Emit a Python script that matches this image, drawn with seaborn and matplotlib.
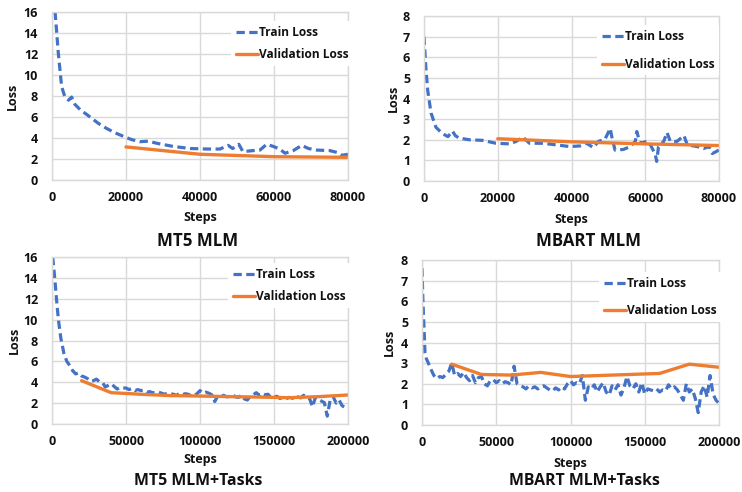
import matplotlib
matplotlib.use("Agg")
import matplotlib.pyplot as plt
import seaborn as sns
from matplotlib.lines import Line2D

# ---------------- data ----------------
# MT5 MLM
mt5_mlm_train_steps = [500, 1700, 2600, 3500, 4500, 5300, 6200, 7600, 10300, 12500,
                       14800, 17000, 19700, 21500, 23800, 26000, 28300, 32700, 37300, 41800,
                       45400, 47600, 48800, 50500, 51600, 54300, 56200, 58000, 59800, 61500,
                       63000, 65200, 67500, 69300, 71600, 75100, 77300, 78300, 80000]
mt5_mlm_train_loss = [17.5, 12.1, 8.9, 7.9, 7.6, 7.9, 7.2, 6.7, 6.0, 5.4,
                      4.9, 4.5, 4.1, 3.85, 3.65, 3.7, 3.5, 3.2, 3.0, 2.95,
                      2.95, 3.3, 3.0, 3.4, 2.7, 2.8, 2.85, 3.4, 3.2, 2.95,
                      2.55, 2.8, 3.3, 3.0, 2.85, 2.8, 2.6, 2.35, 2.45]
mt5_mlm_val_steps = [20000, 40000, 60000, 80000]
mt5_mlm_val_loss = [3.15, 2.45, 2.22, 2.16]

# MBART MLM
mbart_mlm_train_steps = [0, 500, 1000, 1900, 3250, 5000, 6500, 7700, 8500, 9500,
                         12300, 15900, 19500, 23200, 25000, 26800, 28600, 32300, 35900, 39500,
                         42300, 44100, 45900, 47300, 49100, 50500, 50900, 51800, 54100, 55900,
                         57300, 57700, 58600, 60500, 61400, 62700, 63100, 63600, 65000, 65900,
                         66800, 68600, 70500, 71400, 74100, 75900, 77300, 78200, 80000]
mbart_mlm_train_loss = [7.0, 5.5, 4.4, 3.3, 2.6, 2.3, 2.15, 2.42, 2.2, 2.08,
                        2.0, 1.97, 1.83, 1.8, 1.92, 2.13, 1.83, 1.83, 1.75, 1.67,
                        1.7, 1.83, 1.62, 1.92, 2.03, 2.55, 2.17, 1.5, 1.53, 1.67,
                        1.92, 2.4, 1.83, 1.92, 1.75, 1.3, 0.95, 1.67, 1.92, 2.35,
                        1.92, 1.92, 2.2, 1.75, 1.67, 1.58, 1.67, 1.33, 1.5]
mbart_mlm_val_steps = [20000, 40000, 60000, 80000]
mbart_mlm_val_loss = [2.05, 1.9, 1.8, 1.72]

# MT5 MLM+Tasks (logged every 2000 steps after warm-up)
mt5_tasks_head_steps = [500, 1500, 2500, 3500, 4500, 6000]
mt5_tasks_head_loss = [16.0, 14.5, 12.9, 11.2, 9.8, 8.2]
mt5_tasks_log_steps = list(range(8000, 200001, 2000))
mt5_tasks_log_loss = [
    6.8, 6.0, 5.6, 5.1, 4.8, 4.9, 4.6, 4.5, 4.35, 4.1,        # 8000 - 26000
    4.15, 4.3, 4.05, 4.0, 3.55, 3.7, 3.85, 3.6, 3.35, 3.5,    # 28000 - 46000
    3.45, 3.45, 3.3, 3.4, 3.2, 3.3, 3.2, 3.25, 3.05, 3.1,     # 48000 - 66000
    3.0, 3.0, 3.05, 2.95, 2.85, 2.95, 2.9, 2.85, 2.75, 2.9,   # 68000 - 86000
    2.8, 2.9, 2.85, 2.7, 2.75, 2.9, 3.2, 2.95, 3.05, 2.95,    # 88000 - 106000
    2.8, 2.15, 2.7, 2.6, 2.75, 2.6, 2.65, 2.8, 2.6, 2.55,     # 108000 - 126000
    2.75, 2.4, 2.3, 2.65, 2.8, 3.0, 2.75, 2.95, 2.8, 2.85,    # 128000 - 146000
    2.5, 2.6, 2.65, 2.45, 2.55, 2.4, 2.55, 2.5, 2.4, 2.6,     # 148000 - 166000
    2.5, 2.75, 2.6, 2.45, 1.65, 2.55, 2.35, 2.2, 2.05, 0.75,  # 168000 - 186000
    2.35, 2.6, 2.0, 2.3, 1.75, 1.6, 1.6,                      # 188000 - 200000
]
mt5_tasks_val_steps = [20000, 40000, 60000, 80000, 100000, 120000, 140000, 160000, 180000, 200000]
mt5_tasks_val_loss = [4.15, 3.0, 2.85, 2.72, 2.68, 2.62, 2.58, 2.52, 2.62, 2.78]

# MBART MLM+Tasks (logged every 2000 steps after warm-up)
mbart_tasks_head_steps = [0, 500, 1000, 1500, 2000, 3000]
mbart_tasks_head_loss = [7.6, 6.3, 5.3, 4.5, 3.5, 3.2]
mbart_tasks_log_steps = list(range(4000, 200001, 2000))
mbart_tasks_log_loss = [
    3.05, 2.7, 2.4, 2.25, 2.35, 2.3, 2.45, 2.6, 3.0, 2.4,     # 4000 - 22000
    2.5, 2.35, 2.55, 2.3, 2.15, 2.4, 2.05, 2.3, 2.35, 2.0,    # 24000 - 42000
    1.9, 2.15, 2.2, 2.05, 2.15, 2.0, 2.1, 2.05, 1.95, 2.85,   # 44000 - 62000
    2.0, 1.9, 1.85, 1.75, 1.9, 1.8, 1.85, 1.75, 1.85, 1.9,    # 64000 - 82000
    1.8, 1.7, 1.65, 1.8, 1.7, 1.85, 1.75, 2.0, 2.15, 1.95,    # 84000 - 102000
    2.05, 2.0, 2.4, 1.2, 1.85, 1.75, 1.95, 1.6, 1.85, 2.05,   # 104000 - 122000
    1.6, 1.45, 1.9, 1.7, 1.95, 1.45, 1.8, 2.35, 1.9, 1.75,    # 124000 - 142000
    2.0, 1.6, 2.05, 1.5, 1.75, 1.7, 1.65, 1.75, 1.6, 1.7,     # 144000 - 162000
    1.65, 1.95, 1.75, 1.85, 1.7, 1.45, 1.2, 2.0, 1.6, 1.75,   # 164000 - 182000
    1.3, 0.6, 1.6, 1.9, 1.35, 2.4, 1.5, 1.2, 1.05,            # 184000 - 200000
]
mbart_tasks_val_steps = [20000, 40000, 60000, 80000, 100000, 120000, 140000, 160000, 180000, 200000]
mbart_tasks_val_loss = [2.95, 2.45, 2.42, 2.55, 2.35, 2.4, 2.45, 2.5, 2.95, 2.8]

titles = ["MT5 MLM", "MBART MLM", "MT5 MLM+Tasks", "MBART MLM+Tasks"]
legend_labels = ["Train Loss", "Validation Loss"]

# ---------------- style ----------------
W, H = 742, 492
TRAIN_COLOR = "#4472C4"
VAL_COLOR = "#ED7D31"
GRID_COLOR = "#D9D9D9"
TEXT_COLOR = "#111111"
FONT = ["Open Sans", "DejaVu Sans"]

sns.set_style("white")
plt.rcParams["font.family"] = FONT
plt.rcParams["font.weight"] = "bold"

fig = plt.figure(figsize=(W / 100, H / 100), dpi=100)
fig.patch.set_facecolor("white")


def fx(px):
    return px / W


def fy(py):
    return 1 - py / H


panels = [
    dict(rect=(52, 12, 348, 180), xmax=80000, xstep=20000, ymax=16, ystep=2,
         train=(mt5_mlm_train_steps, mt5_mlm_train_loss),
         val=(mt5_mlm_val_steps, mt5_mlm_val_loss),
         leg=(225, 15, 0.8), loss_x=12, steps_y=217, title=(198, 241, 12.2)),
    dict(rect=(424, 16, 719, 181), xmax=80000, xstep=20000, ymax=8, ystep=1,
         train=(mbart_mlm_train_steps, mbart_mlm_train_loss),
         val=(mbart_mlm_val_steps, mbart_mlm_val_loss),
         leg=(591, 19, 1.25), loss_x=393, steps_y=220, title=(588, 241, 12.2)),
    dict(rect=(52, 257, 348, 424), xmax=200000, xstep=50000, ymax=16, ystep=2,
         train=(mt5_tasks_head_steps + mt5_tasks_log_steps,
                mt5_tasks_head_loss + mt5_tasks_log_loss),
         val=(mt5_tasks_val_steps, mt5_tasks_val_loss),
         leg=(222, 257, 0.8), loss_x=14, steps_y=459, title=(198, 481, 11.4)),
    dict(rect=(422, 260, 719, 425), xmax=200000, xstep=50000, ymax=8, ystep=1,
         train=(mbart_tasks_head_steps + mbart_tasks_log_steps,
                mbart_tasks_head_loss + mbart_tasks_log_loss),
         val=(mbart_tasks_val_steps, mbart_tasks_val_loss),
         leg=(593, 266, 1.2), loss_x=389, steps_y=464, title=(584, 481, 11.4)),
]

train_dash = (2.6, 1.4)

for p, title in zip(panels, titles):
    l, t, r, b = p["rect"]
    ax = fig.add_axes([fx(l), fy(b), (r - l) / W, (b - t) / H])

    sns.lineplot(x=p["train"][0], y=p["train"][1], ax=ax, color=TRAIN_COLOR,
                 linewidth=2.3, estimator=None, sort=False)
    train_line = ax.lines[-1]
    train_line.set_dashes(train_dash)
    train_line.set_dash_capstyle("butt")
    sns.lineplot(x=p["val"][0], y=p["val"][1], ax=ax, color=VAL_COLOR,
                 linewidth=2.4, estimator=None, sort=False)

    ax.set_xlim(0, p["xmax"])
    ax.set_ylim(0, p["ymax"])
    ax.set_xticks(range(0, p["xmax"] + 1, p["xstep"]))
    ax.set_yticks(range(0, p["ymax"] + 1, p["ystep"]))
    ax.set_xticklabels([str(v) for v in range(0, p["xmax"] + 1, p["xstep"])])
    ax.set_yticklabels([str(v) for v in range(0, p["ymax"] + 1, p["ystep"])])
    ax.tick_params(length=0, labelsize=9, colors=TEXT_COLOR, pad=8)
    ax.tick_params(axis="y", pad=10)
    for lab in ax.get_xticklabels() + ax.get_yticklabels():
        lab.set_fontweight("bold")
    ax.grid(True, color=GRID_COLOR, linewidth=1.0)
    ax.set_axisbelow(True)
    for s in ax.spines.values():
        s.set_color(GRID_COLOR)
        s.set_linewidth(1.0)
    ax.set_xlabel("")
    ax.set_ylabel("")

    handles = [
        Line2D([], [], color=TRAIN_COLOR, linewidth=2.3, dashes=train_dash,
               dash_capstyle="butt"),
        Line2D([], [], color=VAL_COLOR, linewidth=2.4),
    ]
    lx, ly, lsp = p["leg"]
    leg = ax.legend(handles, legend_labels, loc="upper left",
                    bbox_to_anchor=(fx(lx), fy(ly)), bbox_transform=fig.transFigure,
                    frameon=True, facecolor="white", edgecolor="none", framealpha=1,
                    fancybox=False, borderpad=0.4, handlelength=1.9,
                    handletextpad=0.05, labelspacing=lsp,
                    prop=dict(family=FONT, weight="bold", size=8.6))
    for txt in leg.get_texts():
        txt.set_color(TEXT_COLOR)

    mid_y = (t + b) / 2
    fig.text(fx(p["loss_x"]), fy(mid_y), "Loss", rotation=90, ha="center", va="center",
             fontsize=9, fontweight="bold", color=TEXT_COLOR, family=FONT)
    fig.text(fx((l + r) / 2), fy(p["steps_y"]), "Steps", ha="center", va="center",
             fontsize=9, fontweight="bold", color=TEXT_COLOR, family=FONT)
    tx, ty, tsize = p["title"]
    fig.text(fx(tx), fy(ty), title, ha="center", va="center",
             fontsize=tsize, fontweight="bold", color=TEXT_COLOR, family=FONT)

fig.savefig("out.png", dpi=100, facecolor="white")
